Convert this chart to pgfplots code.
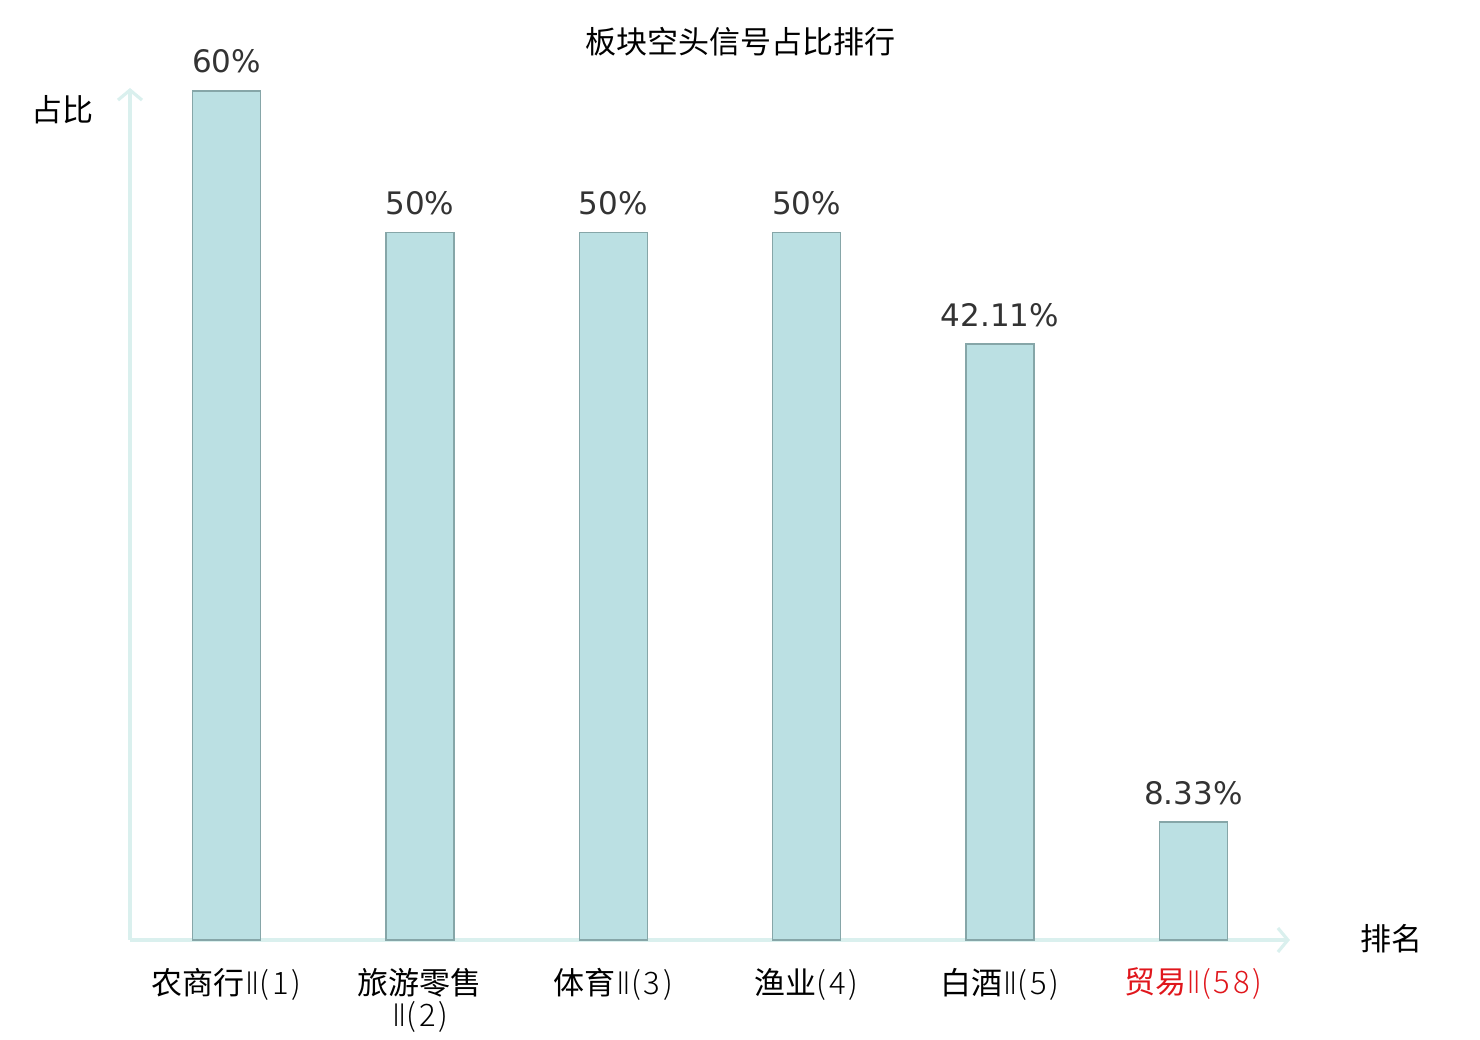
\documentclass[border=0pt]{standalone}
\usepackage{pgfplots}
\pgfplotsset{compat=1.18}
\usepackage{fontspec}
\setmainfont{DejaVu Sans}
\newfontfamily\cjk{Noto Sans CJK SC}
\newfontfamily\cjklight[LetterSpace=9]{Noto Sans CJK SC Light}
\newfontfamily\djlight{DejaVu Sans ExtraLight}
\usetikzlibrary{arrows.meta}
\definecolor{barfill}{HTML}{BBE0E3}
\definecolor{baredge}{HTML}{86A6A8}
\definecolor{axcol}{HTML}{DAF0EE}
\definecolor{lab}{HTML}{333333}
\definecolor{myred}{HTML}{E0161C}
\newcommand{\rn}[1]{{\djlight Ⅱ}{\cjklight(#1)}}
\newcommand{\pn}[1]{{\cjklight(#1)}}
\begin{document}
\begin{tikzpicture}
\path[use as bounding box] (-65pt,-50pt) rectangle (675pt,470pt);
\begin{axis}[
  scale only axis, width=580pt, height=426pt,
  xmin=-0.5, xmax=5.5, ymin=0, ymax=60.2,
  axis x line=bottom, axis y line=left,
  axis line style={axcol, line width=1.6pt, -{Straight Barb[length=5pt,width=12pt,line width=1.6pt]}},
  ytick=\empty,
  xtick={0,1,2,3,4,5},
  xticklabels={{农商行\rn{1}},{旅游零售\\\rn{2}},{体育\rn{3}},{渔业\pn{4}},{白酒\rn{5}},{\color{myred}贸易\rn{58}}},
  major tick length=0pt,
  xticklabel style={font=\cjk\fontsize{15.5}{16}\selectfont, align=center, anchor=north, yshift=-10.5pt, text=black},
  ybar, bar width=34pt,
  nodes near coords,
  point meta=explicit symbolic,
  nodes near coords style={font=\fontsize{15.5}{16}\selectfont, text=lab, yshift=5pt},
  clip=false,
]
\addplot[fill=barfill, draw=baredge, line width=0.8pt] coordinates {
  (0,60) [60\%]
  (1,50) [50\%]
  (2,50) [50\%]
  (3,50) [50\%]
  (4,42.11) [42.11\%]
  (5,8.33) [8.33\%]
};
\end{axis}
\node[font=\cjk\fontsize{15.5}{16}\selectfont] at (-33.5pt,415pt) {占比};
\node[font=\cjk\fontsize{15.5}{16}\selectfont] at (630.5pt,0.5pt) {排名};
\node[font=\cjk\fontsize{15.5}{16}\selectfont] at (305pt,449pt) {板块空头信号占比排行};
\end{tikzpicture}
\end{document}
